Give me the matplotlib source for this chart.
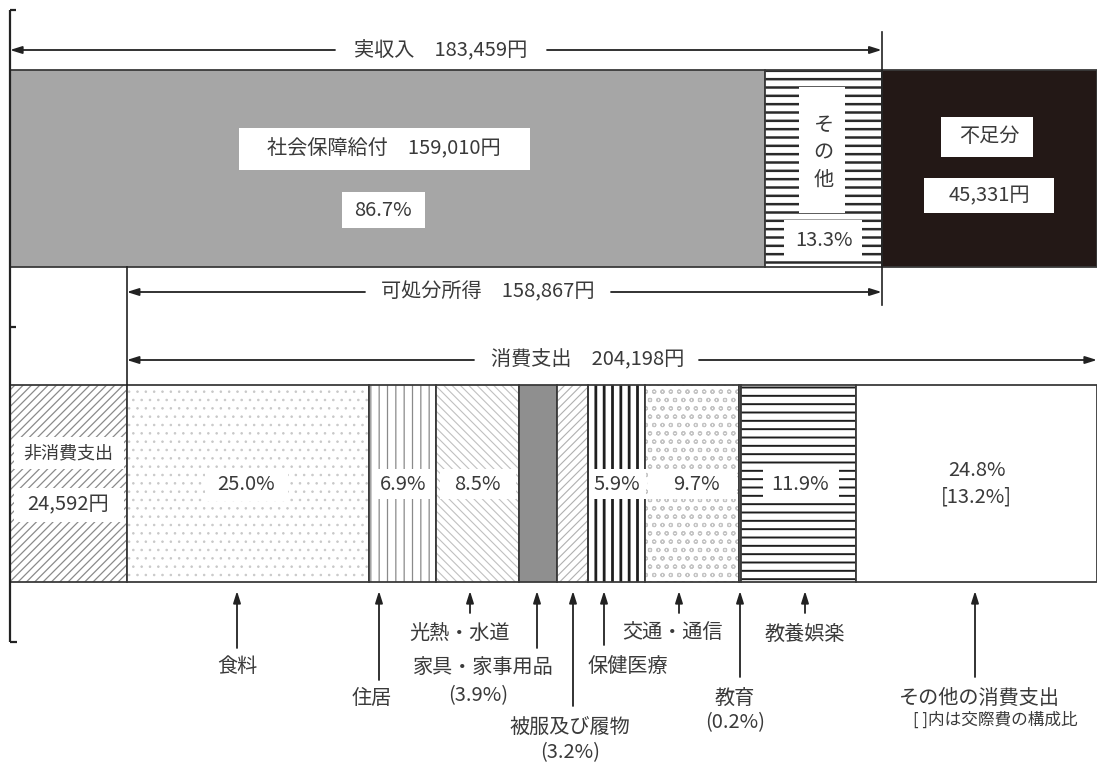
import matplotlib
matplotlib.use("Agg")
import matplotlib.pyplot as plt
import numpy as np

plt.rcParams['font.family'] = ['Noto Sans CJK JP', 'DejaVu Sans']

# ---------------- data ----------------
income_labels = ["社会保障給付", "その他", "不足分"]
income_values = [159010, 24449, 45331]          # yen
actual_income = 183459
disposable_income = 158867
consumption_total = 204198
non_consumption = 24592

cons_labels = ["食料", "住居", "光熱・水道", "家具・家事用品", "被服及び履物",
               "保健医療", "交通・通信", "教育", "教養娯楽", "その他の消費支出"]
cons_pct = [25.0, 6.9, 8.5, 3.9, 3.2, 5.9, 9.7, 0.2, 11.9, 24.8]
kousai_pct = 13.2
income_pct = [86.7, 13.3]

total = non_consumption + consumption_total

# ---------------- figure ----------------
W, H = 1097, 764
fig = plt.figure(figsize=(W / 100, H / 100), dpi=100)
L0, R0 = 10, 1097
ax = fig.add_axes([L0 / W, 0, (R0 - L0) / W, 1])
ax.set_xlim(0, total)
ax.set_ylim(H, 0)
ax.axis('off')


def X(px):
    """layout helper: pixel column -> data x"""
    return (px - L0) / (R0 - L0) * total


TXT = '#3a3a3a'
EDGE = '#3a3a3a'
FS = 14.5


def seg(left, width, y0, y1, face, hatch=None, hcolor=None, hlw=1.0):
    p = ax.barh((y0 + y1) / 2, width, left=left, height=y1 - y0,
                color=face, edgecolor=hcolor if hatch else face,
                hatch=hatch, linewidth=0)[0]
    if hatch and hasattr(p, 'set_hatch_linewidth'):
        p.set_hatch_linewidth(hlw)
    ax.barh((y0 + y1) / 2, width, left=left, height=y1 - y0,
            fill=False, edgecolor=EDGE, linewidth=1.3)


def box_text(xc, yc, s, w=None, h=None, fs=FS, **kw):
    ax.text(xc, yc, s, ha='center', va='center', fontsize=fs, color=TXT,
            zorder=5, **kw)
    if w is not None:
        ax.add_patch(plt.Rectangle((X(w[0]), h[0]), X(w[1]) - X(w[0]),
                                   h[1] - h[0], facecolor='white',
                                   edgecolor='none', zorder=4))


# ---------------- top bar ----------------
TY0, TY1 = 70, 267
lefts_top = np.concatenate([[0], np.cumsum(income_values)[:-1]])
top_styles = [dict(face='#a6a6a6'),
              dict(face='white', hatch='--', hcolor='#2a2a2a', hlw=1.8),
              dict(face='#231816')]
for lft, v, st in zip(lefts_top, income_values, top_styles):
    seg(lft, v, TY0, TY1, **st)

# labels in top bar
box_text(X(384), 149, f"{income_labels[0]}　{income_values[0]:,}円",
         w=(239, 530), h=(128, 170))
box_text(X(383), 210, f"{income_pct[0]}%", w=(342, 425), h=(192, 228))
xo = lefts_top[1] + income_values[1] / 2
box_text(xo, 153, "\n".join(income_labels[1]), linespacing=1.4)
ax.add_patch(plt.Rectangle((X(799), 87), X(845) - X(799), 126,
                           facecolor='white', edgecolor='none', zorder=4))
box_text(xo, 240, f"{income_pct[1]}%", w=(784, 862), h=(220, 257))
xs = lefts_top[2] + income_values[2] / 2
box_text(xs, 137, income_labels[2], w=(941, 1033), h=(117, 157))
box_text(xs, 196, f"{income_values[2]:,}円", w=(924, 1054), h=(178, 213))

# ---------------- bottom bar ----------------
BY0, BY1 = 385, 582
cons_values = [p / 100 * consumption_total for p in cons_pct]
seg(0, non_consumption, BY0, BY1, 'white', '////', '#8a8a8a', 0.9)
cons_styles = [
    dict(face='white', hatch='..', hcolor='#c8c8c8', hlw=0.6),
    dict(face='white', hatch='||', hcolor='#8a8a8a', hlw=0.9),
    dict(face='white', hatch='\\\\\\\\', hcolor='#c0c0c0', hlw=0.8),
    dict(face='#8f8f8f'),
    dict(face='white', hatch='////', hcolor='#b0b0b0', hlw=0.8),
    dict(face='white', hatch='||', hcolor='#1e1e1e', hlw=2.0),
    dict(face='white', hatch='oo', hcolor='#c4c4c4', hlw=0.8),
    dict(face='white'),
    dict(face='white', hatch='--', hcolor='#1e1e1e', hlw=1.4),
    dict(face='white'),
]
cons_left = non_consumption + np.concatenate([[0], np.cumsum(cons_values)[:-1]])
for lft, v, st in zip(cons_left, cons_values, cons_styles):
    seg(lft, v, BY0, BY1, **st)
centers = cons_left + np.array(cons_values) / 2

# labels inside bottom bar
box_text(X(68), 453, "非消費支出", w=(14, 124), h=(437, 469), fs=13)
box_text(X(68), 505, f"{non_consumption:,}円", w=(14, 124), h=(488, 522))
box_text(X(246), 485, f"{cons_pct[0]}%", w=(205, 288), h=(469, 501))
box_text(centers[1], 485, f"{cons_pct[1]}%", w=(372, 435), h=(469, 499))
box_text(centers[2], 485, f"{cons_pct[2]}%", w=(440, 516), h=(469, 499))
box_text(centers[5], 485, f"{cons_pct[5]}%", w=(589, 646), h=(469, 499))
box_text(X(696), 485, f"{cons_pct[6]}%", w=(648, 737), h=(469, 499))
box_text(X(800), 484, f"{cons_pct[8]}%", w=(763, 839), h=(467, 501))
box_text(centers[9], 470, f"{cons_pct[9]}%")
box_text(centers[9], 497, f"[{kousai_pct}%]")

# ---------------- bracket & guide lines ----------------
kw = dict(color='#222222', lw=1.6, clip_on=False, solid_capstyle='butt')
ax.plot([0, 0], [10, 642], **kw)
ax.plot([0, X(16)], [10, 10], **kw)
ax.plot([0, X(16)], [327, 327], **kw)
ax.plot([0, X(17)], [642, 642], **kw)
ax.plot([actual_income] * 2, [32, 305], color='#222222', lw=1.2)
ax.plot([non_consumption] * 2, [TY1, BY0], color='#222222', lw=1.2)

# ---------------- arrows with text ----------------
ap = dict(arrowstyle='-|>,head_length=0.7,head_width=0.22', color='#222222',
          lw=1.3, shrinkA=0, shrinkB=0)


def harrow(y, x_from, x_to):
    ax.annotate('', xy=(x_to, y), xytext=(x_from, y), arrowprops=ap,
                annotation_clip=False)


harrow(50, X(335), 0)
box_text(X(441), 50, f"実収入　{actual_income:,}円")
harrow(50, X(547), actual_income)

harrow(292, X(365), non_consumption)
box_text(X(488), 292, f"可処分所得　{disposable_income:,}円")
harrow(292, X(611), actual_income)

harrow(360, X(474), non_consumption)
box_text(X(588), 360, f"消費支出　{consumption_total:,}円")
harrow(360, X(699), total)

# ---------------- labels below ----------------
# (arrow x px, arrow bottom y, [(text, x px, y, fontsize), ...])
below = [
    (237, 648, [(cons_labels[0], 237, 667, FS)]),
    (379, 680, [(cons_labels[1], 372, 698, FS)]),
    (470, 613, [(cons_labels[2], 460, 633, FS)]),
    (537, 648, [(cons_labels[3], 483, 667, FS), (f"({cons_pct[3]}%)", 478, 696, FS)]),
    (573, 706, [(cons_labels[4], 570, 727, FS), (f"({cons_pct[4]}%)", 570, 753, FS)]),
    (604, 645, [(cons_labels[5], 628, 667, FS)]),
    (679, 613, [(cons_labels[6], 672, 633, FS)]),
    (740, 677, [(cons_labels[7], 735, 698, FS), (f"({cons_pct[7]}%)", 735, 723, FS)]),
    (805, 613, [(cons_labels[8], 805, 634, FS)]),
    (975, 677, [(cons_labels[9], 979, 698, FS), ("[ ]内は交際費の構成比", 995, 720, 12)]),
]
for axp, ybot, texts in below:
    ax.annotate('', xy=(X(axp), 591), xytext=(X(axp), ybot), arrowprops=ap,
                annotation_clip=False)
    for s, tx, ty, fs in texts:
        box_text(X(tx), ty, s, fs=fs)

fig.savefig("out.png", dpi=100, facecolor='white')
